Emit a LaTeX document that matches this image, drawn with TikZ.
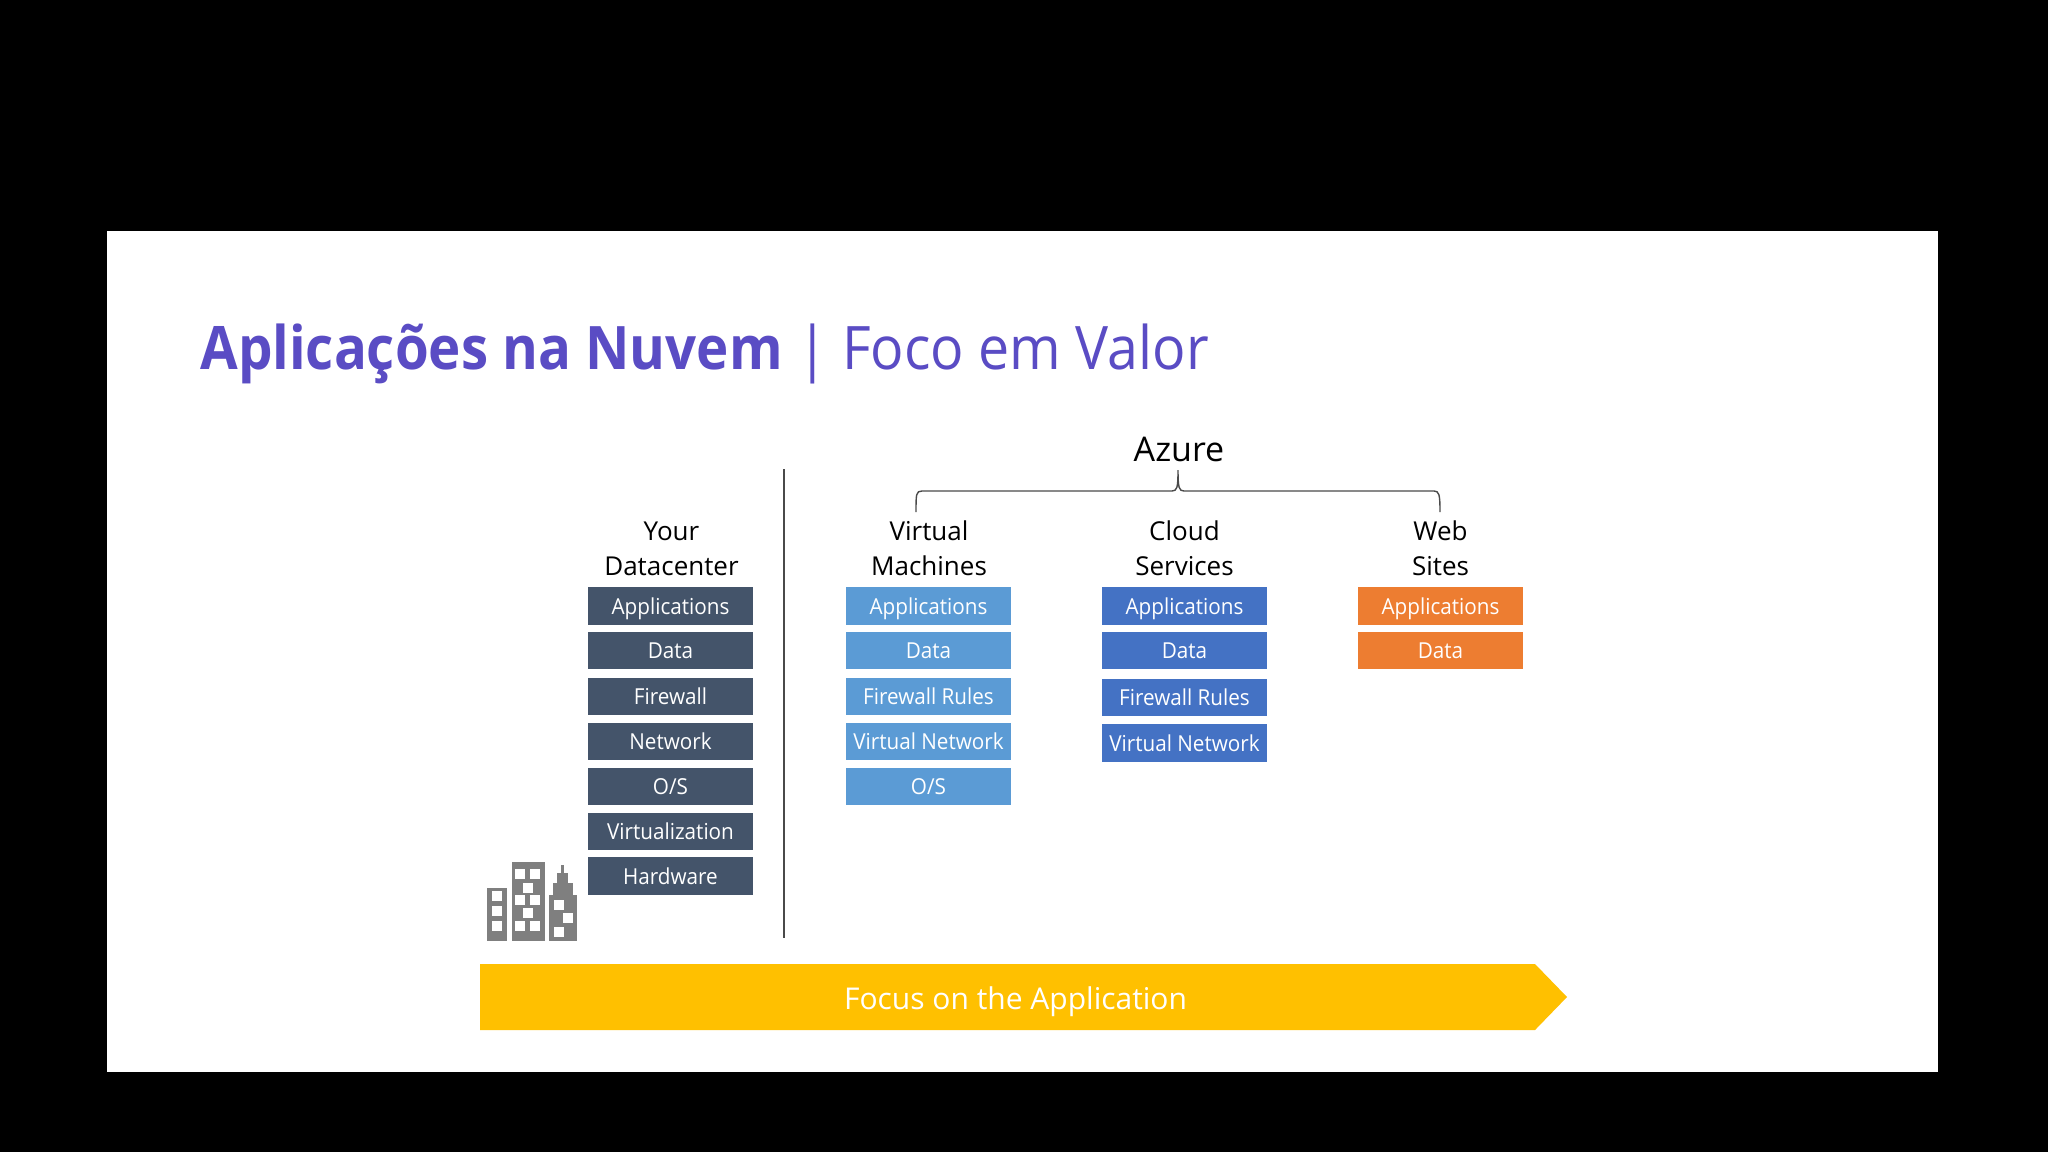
\documentclass[tikz,border=0pt]{standalone}
\usepackage{fontspec}
\setmainfont{Open Sans}
\newfontfamily\boxfont[FakeStretch=0.94]{Open Sans}
\newfontfamily\titlefont[FakeStretch=0.925,BoldFeatures={FakeStretch=0.91}]{Open Sans}
\definecolor{titlecol}{HTML}{5A4CC4}
\definecolor{dccol}{HTML}{44546A}
\definecolor{vmcol}{HTML}{5B9BD5}
\definecolor{cscol}{HTML}{4472C4}
\definecolor{webcol}{HTML}{ED7D31}
\definecolor{barcol}{HTML}{FFC000}
\definecolor{citycol}{HTML}{7F7F7F}
\definecolor{rulecol}{HTML}{4A4A4A}
\tikzset{
  layerbox/.style={minimum width=82.5pt,minimum height=18.6pt,inner sep=0pt,text height=8.4pt,text depth=0pt,text=white,font=\boxfont\fontsize{11}{13}\selectfont},
  dcbox/.style={layerbox,fill=dccol},
  vmbox/.style={layerbox,fill=vmcol},
  csbox/.style={layerbox,fill=cscol},
  webbox/.style={layerbox,fill=webcol},
  headtext/.style={align=center,inner sep=0pt,text=black,font=\fontsize{13}{17.7}\selectfont},
  citywin/.style={fill=white},
}
\begin{document}
\begin{tikzpicture}[x=0.5pt,y=-0.5pt]
  \useasboundingbox (0,0) rectangle (2048,1152);
  \fill[black] (0,0) rectangle (2048,1152);
  \fill[white] (107,231) rectangle (1938,1072);
  % title
  \node[anchor=base west,inner sep=0pt,text=titlecol,font=\titlefont\fontsize{30}{36}\selectfont] (title) at (200,369)
    {\textbf{Aplicações na Nuvem} | Foco em Valor};
  % azure brace
  \node[headtext,font=\fontsize{17}{20}\selectfont] (azure) at (1179,449) {Azure};
  \coordinate (braceL) at (916,512);
  \coordinate (braceT) at (1178,470);
  \coordinate (braceR) at (1440,512);
  \draw[line width=0.7pt,rulecol] (braceL) .. controls +(0,-18) and +(-6,0) .. ++(6,-21) -- ++(250,0)
    .. controls +(5,0) and +(0,18) .. (braceT) .. controls +(0,18) and +(-5,0) .. ++(6,21) -- ++(250,0)
    .. controls +(5,0) and +(0,-18) .. (braceR);
  % divider
  \coordinate (divtop) at (784,469);
  \coordinate (divbot) at (784,938);
  \draw[line width=0.8pt,rulecol] (divtop) -- (divbot);
  % column heads
  \node[headtext] (headdc) at (671.5,549) {Your\\Datacenter};
  \node[headtext] (headvm) at (929,548) {Virtual\\Machines};
  \node[headtext] (headcs) at (1184.5,548) {Cloud\\Services};
  \node[headtext] (headweb) at (1440.5,548) {Web\\Sites};
  % your datacenter
  \foreach \ytop/\ylab/\yname in {606/Applications/a,650.5/Data/b,696.5/Firewall/c,741.5/Network/d,786.5/O\slash S/e,831.5/Virtualization/f,876/Hardware/g}
    \node[dcbox] (dc\yname) at (670.5,\ytop) {\ylab};
  % virtual machines
  \foreach \ytop/\ylab/\yname in {606/Applications/a,650.5/Data/b,696.5/Firewall Rules/c,741.5/Virtual Network/d,786.5/O\slash S/e}
    \node[vmbox] (vm\yname) at (928.5,\ytop) {\ylab};
  % cloud services
  \foreach \ytop/\ylab/\yname in {606/Applications/a,650.5/Data/b,697.5/Firewall Rules/c,743/Virtual Network/d}
    \node[csbox] (cs\yname) at (1184.5,\ytop) {\ylab};
  % web sites
  \foreach \ytop/\ylab/\yname in {606/Applications/a,650.5/Data/b}
    \node[webbox] (web\yname) at (1440.5,\ytop) {\ylab};
  % city icon
  \fill[citycol] (487,888) rectangle (507,941);
  \fill[citycol] (512,862) rectangle (545,941);
  \fill[citycol] (549,895) rectangle (577,941);
  \fill[citycol] (553,883) rectangle (573,896);
  \fill[citycol] (557,873) rectangle (568,884);
  \fill[citycol] (561,865) rectangle (563.5,874);
  \foreach \wx/\wy in {492/891,492/906,492/921,
      515/869,530/869,523/883,515/895,530/895,523/908,515/921,530/921,
      554/900,563/913,554/927}
    \fill[citywin] (\wx,\wy) rectangle +(10,9.5);
  % focus bar
  \fill[barcol] (480,964) -- (1535,964) -- (1567,997) -- (1535,1030) -- (480,1030) -- cycle;
  \node[inner sep=0pt,text=white,font=\fontsize{15}{18}\selectfont] (focus) at (1015.5,1001.5) {Focus on the Application};
\end{tikzpicture}
\end{document}
